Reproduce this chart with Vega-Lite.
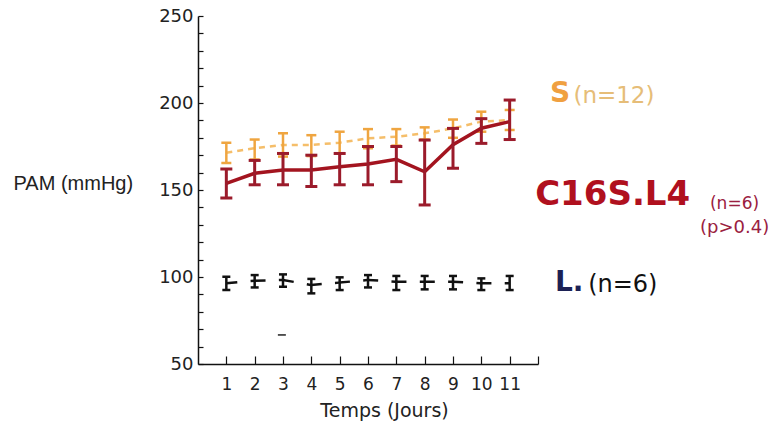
{
  "$schema": "https://vega.github.io/schema/vega-lite/v6.json",
  "width": 340,
  "height": 348,
  "autosize": {"type": "none"},
  "padding": {"left": 198, "top": 16, "right": 239, "bottom": 59},
  "background": "white",
  "datasets": {
    "series": [
      {"group": "S", "day": 1, "pam": 171.4, "lo": 165.5, "hi": 177.2},
      {"group": "S", "day": 2, "pam": 174.0, "lo": 167.5, "hi": 179.0},
      {"group": "S", "day": 3, "pam": 175.9, "lo": 169.2, "hi": 182.6},
      {"group": "S", "day": 4, "pam": 175.9, "lo": 169.5, "hi": 181.5},
      {"group": "S", "day": 5, "pam": 177.2, "lo": 171.0, "hi": 183.5},
      {"group": "S", "day": 6, "pam": 179.7, "lo": 174.0, "hi": 185.0},
      {"group": "S", "day": 7, "pam": 180.6, "lo": 175.5, "hi": 185.0},
      {"group": "S", "day": 8, "pam": 182.6, "lo": 179.0, "hi": 186.0},
      {"group": "S", "day": 9, "pam": 185.4, "lo": 180.0, "hi": 190.5},
      {"group": "S", "day": 10, "pam": 189.3, "lo": 183.5, "hi": 195.0},
      {"group": "S", "day": 11, "pam": 190.2, "lo": 184.5, "hi": 196.0},
      {"group": "C16S.L4", "day": 1, "pam": 153.8, "lo": 145.4, "hi": 162.0},
      {"group": "C16S.L4", "day": 2, "pam": 159.6, "lo": 153.0, "hi": 167.0},
      {"group": "C16S.L4", "day": 3, "pam": 161.5, "lo": 153.0, "hi": 171.0},
      {"group": "C16S.L4", "day": 4, "pam": 161.5, "lo": 152.0, "hi": 170.0},
      {"group": "C16S.L4", "day": 5, "pam": 163.4, "lo": 153.0, "hi": 171.0},
      {"group": "C16S.L4", "day": 6, "pam": 165.0, "lo": 153.0, "hi": 175.0},
      {"group": "C16S.L4", "day": 7, "pam": 167.6, "lo": 154.8, "hi": 175.0},
      {"group": "C16S.L4", "day": 8, "pam": 160.5, "lo": 141.4, "hi": 178.7},
      {"group": "C16S.L4", "day": 9, "pam": 176.0, "lo": 162.5, "hi": 185.4},
      {"group": "C16S.L4", "day": 10, "pam": 185.5, "lo": 176.8, "hi": 191.0},
      {"group": "C16S.L4", "day": 11, "pam": 189.3, "lo": 179.0, "hi": 201.7},
      {"group": "L", "day": 1, "pam": 96.4, "lo": 92.5, "hi": 100.2},
      {"group": "L", "day": 2, "pam": 97.9, "lo": 94.0, "hi": 101.1},
      {"group": "L", "day": 3, "pam": 98.3, "lo": 94.4, "hi": 101.5},
      {"group": "L", "day": 4, "pam": 95.4, "lo": 90.6, "hi": 98.9},
      {"group": "L", "day": 5, "pam": 96.8, "lo": 92.5, "hi": 99.8},
      {"group": "L", "day": 6, "pam": 98.3, "lo": 94.0, "hi": 101.1},
      {"group": "L", "day": 7, "pam": 97.3, "lo": 92.5, "hi": 100.6},
      {"group": "L", "day": 8, "pam": 97.3, "lo": 92.9, "hi": 100.6},
      {"group": "L", "day": 9, "pam": 97.3, "lo": 92.9, "hi": 100.6},
      {"group": "L", "day": 10, "pam": 96.4, "lo": 92.5, "hi": 99.2},
      {"group": "L", "day": 11, "pam": 96.4, "lo": 92.5, "hi": 100.6}
    ]
  },
  "encoding": {
    "x": {
      "field": "day", "type": "quantitative",
      "scale": {"domain": [0, 12], "nice": false, "zero": false},
      "title": "Temps (Jours)",
      "axis": {
        "values": [1, 2, 3, 4, 5, 6, 7, 8, 9, 10, 11, 12],
        "tickCount": 30,
        "format": "d",
        "labelExpr": "datum.value == 12 ? '' : datum.label",
        "labelOverlap": false
      }
    }
  },
  "layer": [
    {
      "data": {"name": "series"},
      "transform": [{"filter": "datum.group == 'S'"}],
      "mark": {"type": "line", "color": "#F5BE6A", "strokeWidth": 2.5, "strokeDash": [6, 5]},
      "encoding": {"y": {
        "field": "pam", "type": "quantitative",
        "scale": {"domain": [50, 250], "nice": false, "zero": false},
        "title": "PAM (mmHg)",
        "axis": {
          "values": [50, 60, 70, 80, 90, 100, 110, 120, 130, 140, 150, 160, 170, 180, 190, 200, 210, 220, 230, 240, 250],
          "tickCount": 30,
          "format": "d",
          "labelExpr": "datum.value % 50 == 0 ? datum.label : ''",
          "labelOverlap": false,
          "labelFlush": false
        }
      }}
    },
    {
      "data": {"name": "series"},
      "transform": [{"filter": "datum.group == 'S'"}],
      "mark": {"type": "rule", "color": "#EFA540", "strokeWidth": 2.5},
      "encoding": {"y": {"field": "lo", "type": "quantitative", "title": "PAM (mmHg)"}, "y2": {"field": "hi"}}
    },
    {
      "data": {"name": "series"},
      "transform": [{"filter": "datum.group == 'S'"}],
      "mark": {"type": "tick", "orient": "horizontal", "color": "#EFA540", "size": 10, "thickness": 2.5, "opacity": 1},
      "encoding": {"y": {"field": "lo", "type": "quantitative", "title": "PAM (mmHg)"}}
    },
    {
      "data": {"name": "series"},
      "transform": [{"filter": "datum.group == 'S'"}],
      "mark": {"type": "tick", "orient": "horizontal", "color": "#EFA540", "size": 10, "thickness": 2.5, "opacity": 1},
      "encoding": {"y": {"field": "hi", "type": "quantitative", "title": "PAM (mmHg)"}}
    },
    {
      "data": {"name": "series"},
      "transform": [{"filter": "datum.group == 'C16S.L4'"}],
      "mark": {"type": "line", "color": "#A3141F", "strokeWidth": 3.5},
      "encoding": {"y": {"field": "pam", "type": "quantitative", "title": "PAM (mmHg)"}}
    },
    {
      "data": {"name": "series"},
      "transform": [{"filter": "datum.group == 'C16S.L4'"}],
      "mark": {"type": "rule", "color": "#9B1B2B", "strokeWidth": 3},
      "encoding": {"y": {"field": "lo", "type": "quantitative", "title": "PAM (mmHg)"}, "y2": {"field": "hi"}}
    },
    {
      "data": {"name": "series"},
      "transform": [{"filter": "datum.group == 'C16S.L4'"}],
      "mark": {"type": "tick", "orient": "horizontal", "color": "#9B1B2B", "size": 12, "thickness": 3, "opacity": 1},
      "encoding": {"y": {"field": "lo", "type": "quantitative", "title": "PAM (mmHg)"}}
    },
    {
      "data": {"name": "series"},
      "transform": [{"filter": "datum.group == 'C16S.L4'"}],
      "mark": {"type": "tick", "orient": "horizontal", "color": "#9B1B2B", "size": 12, "thickness": 3, "opacity": 1},
      "encoding": {"y": {"field": "hi", "type": "quantitative", "title": "PAM (mmHg)"}}
    },
    {
      "data": {"name": "series"},
      "transform": [{"filter": "datum.group == 'L'"}],
      "mark": {"type": "line", "color": "#111111", "strokeWidth": 2.5, "strokeDash": [11, 13.33, 4, 0]},
      "encoding": {"y": {"field": "pam", "type": "quantitative", "title": "PAM (mmHg)"}}
    },
    {
      "data": {"name": "series"},
      "transform": [{"filter": "datum.group == 'L'"}],
      "mark": {"type": "rule", "color": "#111111", "strokeWidth": 2.5},
      "encoding": {"y": {"field": "lo", "type": "quantitative", "title": "PAM (mmHg)"}, "y2": {"field": "hi"}}
    },
    {
      "data": {"name": "series"},
      "transform": [{"filter": "datum.group == 'L'"}],
      "mark": {"type": "tick", "orient": "horizontal", "color": "#111111", "size": 8, "thickness": 2.5, "opacity": 1},
      "encoding": {"y": {"field": "lo", "type": "quantitative", "title": "PAM (mmHg)"}}
    },
    {
      "data": {"name": "series"},
      "transform": [{"filter": "datum.group == 'L'"}],
      "mark": {"type": "tick", "orient": "horizontal", "color": "#111111", "size": 8, "thickness": 2.5, "opacity": 1},
      "encoding": {"y": {"field": "hi", "type": "quantitative", "title": "PAM (mmHg)"}}
    },
    {
      "data": {"values": [{"day": 2.96, "pam": 66.7}]},
      "mark": {"type": "tick", "orient": "horizontal", "color": "#222222", "size": 8, "thickness": 1.5, "opacity": 1},
      "encoding": {"y": {"field": "pam", "type": "quantitative", "title": "PAM (mmHg)"}}
    },
    {
      "data": {"values": [{"label": "S", "day": 12.42, "pam": 205.0}]},
      "mark": {"type": "text", "align": "left", "baseline": "middle", "font": "DejaVu Sans", "fontSize": 28, "fontWeight": "bold", "color": "#F0A040"},
      "encoding": {"y": {"field": "pam", "type": "quantitative", "title": "PAM (mmHg)"}, "text": {"field": "label"}}
    },
    {
      "data": {"values": [{"label": "(n=12)", "day": 13.25, "pam": 204.3}]},
      "mark": {"type": "text", "align": "left", "baseline": "middle", "font": "DejaVu Sans", "fontSize": 23, "color": "#E6BD78"},
      "encoding": {"y": {"field": "pam", "type": "quantitative", "title": "PAM (mmHg)"}, "text": {"field": "label"}}
    },
    {
      "data": {"values": [{"label": "C16S.L4", "day": 11.9, "pam": 147.1}]},
      "mark": {"type": "text", "align": "left", "baseline": "middle", "font": "DejaVu Sans", "fontSize": 34, "fontWeight": "bold", "color": "#B0101E"},
      "encoding": {"y": {"field": "pam", "type": "quantitative", "title": "PAM (mmHg)"}, "text": {"field": "label"}}
    },
    {
      "data": {"values": [{"label": "(n=6)", "day": 18.07, "pam": 142.0}]},
      "mark": {"type": "text", "align": "left", "baseline": "middle", "font": "DejaVu Sans", "fontSize": 17, "color": "#9A2040"},
      "encoding": {"y": {"field": "pam", "type": "quantitative", "title": "PAM (mmHg)"}, "text": {"field": "label"}}
    },
    {
      "data": {"values": [{"label": "(p>0.4)", "day": 17.72, "pam": 128.2}]},
      "mark": {"type": "text", "align": "left", "baseline": "middle", "font": "DejaVu Sans", "fontSize": 18, "color": "#9A2040"},
      "encoding": {"y": {"field": "pam", "type": "quantitative", "title": "PAM (mmHg)"}, "text": {"field": "label"}}
    },
    {
      "data": {"values": [{"label": "L.", "day": 12.6, "pam": 96.6}]},
      "mark": {"type": "text", "align": "left", "baseline": "middle", "font": "DejaVu Sans", "fontSize": 28, "fontWeight": "bold", "color": "#1C2155"},
      "encoding": {"y": {"field": "pam", "type": "quantitative", "title": "PAM (mmHg)"}, "text": {"field": "label"}}
    },
    {
      "data": {"values": [{"label": "(n=6)", "day": 13.77, "pam": 95.4}]},
      "mark": {"type": "text", "align": "left", "baseline": "middle", "font": "DejaVu Sans", "fontSize": 24, "color": "#111111"},
      "encoding": {"y": {"field": "pam", "type": "quantitative", "title": "PAM (mmHg)"}, "text": {"field": "label"}}
    }
  ],
  "config": {
    "view": {"stroke": null},
    "axis": {
      "grid": false,
      "domainColor": "#111111",
      "domainWidth": 1.5,
      "tickColor": "#111111",
      "tickWidth": 1.2,
      "labelColor": "#222222",
      "titleColor": "#222222",
      "labelFont": "DejaVu Sans",
      "titleFont": "DejaVu Sans",
      "titleFontWeight": "normal"
    },
    "axisX": {
      "tickSize": -8,
      "labelPadding": 20,
      "labelFontSize": 17,
      "titleFontSize": 19,
      "titleX": 186,
      "titleY": 52,
      "titleAlign": "center",
      "titleBaseline": "alphabetic"
    },
    "axisY": {
      "tickSize": -5,
      "labelPadding": 10,
      "labelFontSize": 18,
      "titleAngle": 0,
      "titleAlign": "left",
      "titleBaseline": "middle",
      "titleX": -185,
      "titleY": 167,
      "titleFont": "Liberation Sans",
      "titleFontSize": 20
    }
  }
}
